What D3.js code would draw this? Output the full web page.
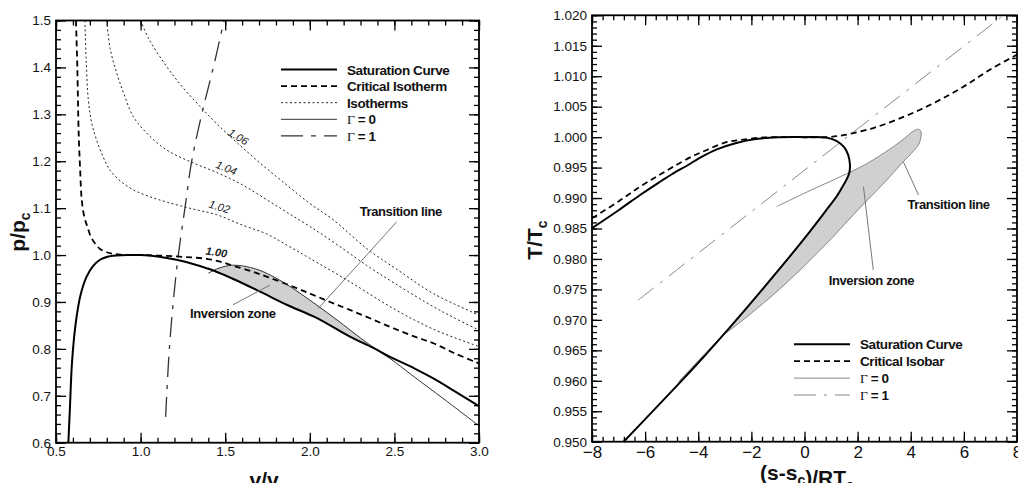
<!DOCTYPE html>
<html>
<head>
<meta charset="utf-8">
<script src="https://cdn.jsdelivr.net/npm/d3@7"></script>
<style>
body{margin:0;background:#fff;}
svg{font-family:"Liberation Sans",Arial,sans-serif;}
</style>
</head>
<body>
<svg id="chart" width="1018" height="483"></svg>
<script>
// ---- left panel : p/pc vs v/vc ----
const satPV = [[0.573,0.6],[0.583,0.68],[0.593,0.762],[0.607,0.825],[0.622,0.869],[0.645,0.915],[0.681,0.954],[0.72,0.977],[0.76,0.990],[0.80,0.996],[0.86,0.999],[0.93,1.0],[1.0,1.0],[1.1,0.997],[1.213,0.990],[1.3,0.982],[1.39,0.972],[1.43,0.967],[1.548,0.949],[1.706,0.922],[1.87,0.893],[2.04,0.866],[2.237,0.826],[2.37,0.803],[2.48,0.782],[2.62,0.758],[2.73,0.737],[2.86,0.709],[3.0,0.678]];
const critIsotherm = [[0.618,1.5],[0.626,1.40],[0.634,1.26],[0.643,1.18],[0.652,1.118],[0.668,1.08],[0.685,1.061],[0.705,1.04],[0.73,1.025],[0.76,1.013],[0.80,1.006],[0.85,1.002],[0.92,1.0],[1.0,1.0],[1.1,0.999],[1.213,0.997],[1.3,0.995],[1.39,0.992],[1.47,0.986],[1.548,0.977],[1.65,0.966],[1.745,0.954],[1.87,0.937],[2.0,0.918],[2.12,0.900],[2.237,0.883],[2.37,0.863],[2.494,0.844],[2.62,0.826],[2.73,0.812],[2.86,0.790],[3.0,0.769]];
const iso102 = [[0.671,1.5],[0.678,1.42],[0.691,1.331],[0.712,1.28],[0.74,1.245],[0.78,1.208],[0.819,1.181],[0.88,1.158],[0.957,1.139],[1.05,1.125],[1.154,1.113],[1.3,1.099],[1.45,1.086],[1.6,1.064],[1.745,1.045],[1.87,1.02],[2.0,0.993],[2.237,0.943],[2.494,0.886],[2.73,0.842],[3.0,0.805]];
const iso104 = [[0.80,1.5],[0.82,1.44],[0.859,1.388],[0.9,1.345],[0.957,1.295],[1.05,1.255],[1.154,1.224],[1.3,1.198],[1.45,1.176],[1.6,1.150],[1.745,1.118],[1.87,1.090],[2.0,1.061],[2.15,1.025],[2.336,0.978],[2.5,0.940],[2.73,0.89],[2.86,0.865],[3.0,0.84]];
const iso106 = [[1.0,1.5],[1.05,1.46],[1.154,1.402],[1.25,1.357],[1.351,1.317],[1.45,1.28],[1.568,1.24],[1.7,1.198],[1.844,1.155],[2.0,1.11],[2.139,1.075],[2.336,1.014],[2.533,0.965],[2.73,0.918],[3.0,0.872]];
const gamma0PV = [[1.40,0.961],[1.43,0.967],[1.47,0.973],[1.53,0.978],[1.60,0.977],[1.70,0.968],[1.80,0.951],[1.90,0.929],[2.00,0.904],[2.10,0.878],[2.20,0.851],[2.30,0.823],[2.40,0.797],[2.48,0.778],[2.60,0.745],[2.80,0.691],[3.0,0.636]];
const gamma1PV = [[1.148,0.655],[1.154,0.7],[1.170,0.8],[1.193,0.9],[1.223,1.0],[1.262,1.1],[1.302,1.2],[1.361,1.3],[1.43,1.4],[1.493,1.5]];
const isoLabels = ["1.00","1.02","1.04","1.06"];
const isoLabelPos = [[1.445,0.998],[1.459,1.095],[1.499,1.178],[1.566,1.245]];
const isoLabelAngle = [8,17,22,32];

// ---- right panel : T/Tc vs (s-sc)/RTc ----
const satTS = [[-8,0.98505],[-7,0.98800],[-6.19,0.9905],[-5.5,0.9925],[-4.94,0.99406],[-4.43,0.9953],[-3.93,0.99663],[-3.3,0.99800],[-2.6,0.99900],[-1.9,0.99965],[-1.0,0.99997],[0,1.0],[0.8,0.99995],[1.2,0.9994],[1.5,0.9983],[1.65,0.9970],[1.71,0.9955],[1.69,0.9942],[1.60,0.9932],[1.45,0.9920],[1.213,0.9903],[0.8,0.9879],[0.2,0.9845],[-0.8,0.9791],[-1.8,0.9739],[-2.8,0.9688],[-3.1,0.96733],[-3.8,0.9639],[-4.8,0.9592],[-5.8,0.9546],[-6.81,0.950]];
const critIsobar = [[-8,0.98667],[-7,0.98945],[-6.19,0.99186],[-5.5,0.9937],[-4.94,0.99514],[-4.2,0.9969],[-3.68,0.99789],[-3.0,0.9991],[-2.43,0.99953],[-1.5,0.99995],[-0.5,1.0],[0.83,1.0],[1.3,1.0002],[1.84,1.00067],[2.59,1.00149],[3.47,1.00286],[4.35,1.0045],[5.23,1.00642],[6.11,1.00861],[6.98,1.01107],[8,1.01354]];
const gamma0TS = [[-1.05,0.9886],[0,0.9908],[1.0,0.9928],[1.69,0.9942],[2.2,0.9953],[2.6,0.9963],[3.1,0.9977],[3.6,0.99925],[3.9,1.0003],[4.1,1.0010],[4.3,1.0013],[4.39,1.0008],[4.32,0.9990],[4.1,0.9977],[3.72,0.99596],[3.0,0.99250],[2.0,0.98800],[1.0,0.98330],[0,0.97890],[-1.0,0.97480],[-2.0,0.97110],[-2.6,0.96900],[-3.1,0.96733],[-3.8,0.9642],[-4.75,0.9598]];
const gamma1TS = [[-6.26,0.97326],[0.6,0.9966],[7.49,1.020]];

const svg = d3.select("#chart");

function frame(xs, ys, xMaj, xMin, yMaj, yMin, xFmt, yFmt, xSize, ySize){
    const [x0,x1] = xs.range(), [y0,y1] = ys.range();
    const g = svg.append("g");
    // bottom
    g.append("g").attr("transform",`translate(0,${y0})`)
        .call(d3.axisBottom(xs).tickValues(xMaj).tickSize(-10).tickPadding(4).tickFormat(xFmt))
        .call(a=>a.selectAll("text").style("font-size",xSize+"px").attr("fill","#111"));
    g.append("g").attr("transform",`translate(0,${y0})`)
        .call(d3.axisBottom(xs).tickValues(xMin).tickSize(-5).tickFormat(""));
    // top
    g.append("g").attr("transform",`translate(0,${y1})`)
        .call(d3.axisTop(xs).tickValues(xMaj).tickSize(-10).tickFormat(""));
    g.append("g").attr("transform",`translate(0,${y1})`)
        .call(d3.axisTop(xs).tickValues(xMin).tickSize(-5).tickFormat(""));
    // left
    g.append("g").attr("transform",`translate(${x0},0)`)
        .call(d3.axisLeft(ys).tickValues(yMaj).tickSize(-10).tickPadding(5).tickFormat(yFmt))
        .call(a=>a.selectAll("text").style("font-size",ySize+"px").attr("fill","#111"));
    g.append("g").attr("transform",`translate(${x0},0)`)
        .call(d3.axisLeft(ys).tickValues(yMin).tickSize(-5).tickFormat(""));
    // right
    g.append("g").attr("transform",`translate(${x1},0)`)
        .call(d3.axisRight(ys).tickValues(yMaj).tickSize(-10).tickFormat(""));
    g.append("g").attr("transform",`translate(${x1},0)`)
        .call(d3.axisRight(ys).tickValues(yMin).tickSize(-5).tickFormat(""));
    g.selectAll(".domain").remove();
    g.selectAll(".tick line").attr("stroke","#000").attr("stroke-width",1.3);
    g.selectAll(".tick text").style("font-family","'Liberation Sans',Arial,sans-serif");
    g.append("rect").attr("x",x0).attr("y",y1).attr("width",x1-x0).attr("height",y0-y1)
        .attr("fill","none").attr("stroke","#000").attr("stroke-width",1.8);
}

function steps(a,b,st){ return d3.range(Math.round((b-a)/st)+1).map(i=>+(a+i*st).toFixed(4)); }

// ===== left =====
const xL = d3.scaleLinear().domain([0.5,3.0]).range([56,479]);
const yL = d3.scaleLinear().domain([0.6,1.5]).range([442.7,20.5]);
const lineL = d3.line().x(d=>xL(d[0])).y(d=>yL(d[1])).curve(d3.curveCatmullRom);

const gL = svg.append("g");
const zoneL = gamma0PV.slice(1,14).concat(satPV.slice(17,25).reverse());
gL.append("path").attr("d",lineL(zoneL)+"Z").attr("fill","#d0d0d0").attr("stroke","none");

[iso102,iso104,iso106].forEach(s=>{
    gL.append("path").attr("d",lineL(s)).attr("fill","none").attr("stroke","#222")
      .attr("stroke-width",1).attr("stroke-dasharray","2,2.5");
});
gL.append("path").attr("d",lineL(gamma1PV)).attr("fill","none").attr("stroke","#333")
  .attr("stroke-width",1.3).attr("stroke-dasharray","20,8,4,8");
gL.append("path").attr("d",lineL(critIsotherm)).attr("fill","none").attr("stroke","#000")
  .attr("stroke-width",1.8).attr("stroke-dasharray","6,4");
gL.append("path").attr("d",lineL(gamma0PV)).attr("fill","none").attr("stroke","#333").attr("stroke-width",1);
gL.append("path").attr("d",lineL(satPV)).attr("fill","none").attr("stroke","#000").attr("stroke-width",2);

isoLabels.forEach((t,i)=>{
    gL.append("text").attr("transform",`translate(${xL(isoLabelPos[i][0])},${yL(isoLabelPos[i][1])}) rotate(${isoLabelAngle[i]})`)
      .attr("text-anchor","middle").style("font-size","11px").style("font-style","italic")
      .style("font-weight", i===0 ? "bold" : "normal").attr("fill","#222").text(t);
});

// annotations left
const annL = [["Transition line",[2.514,1.071],[2.05,0.886],[2.538,1.083]],["Inversion zone",[1.546,0.894],[1.765,0.936],[1.545,0.866]]];
annL.forEach(a=>{
    gL.append("line").attr("x1",xL(a[1][0])).attr("y1",yL(a[1][1])).attr("x2",xL(a[2][0])).attr("y2",yL(a[2][1]))
      .attr("stroke","#777").attr("stroke-width",1);
    gL.append("text").attr("x",xL(a[3][0])).attr("y",yL(a[3][1])).attr("text-anchor","middle")
      .style("font-size","13px").style("font-weight","bold").style("letter-spacing","-0.4px")
      .attr("fill","#111").text(a[0]);
});

frame(xL, yL, steps(0.5,3.0,0.5), steps(0.5,3.0,0.1), steps(0.6,1.5,0.1), steps(0.6,1.5,0.02),
      d3.format(".1f"), d3.format(".1f"), 13.5, 13.5);

// ===== right =====
const xR = d3.scaleLinear().domain([-8,8]).range([592,1017]);
const yR = d3.scaleLinear().domain([0.95,1.02]).range([441.7,15.3]);
const lineR = d3.line().x(d=>xR(d[0])).y(d=>yR(d[1])).curve(d3.curveCatmullRom);

const gR = svg.append("g");
const zoneR = gamma0TS.slice(3,23).concat(satTS.slice(17,27).reverse());
gR.append("path").attr("d",lineR(zoneR)+"Z").attr("fill","#d0d0d0").attr("stroke","none");
gR.append("path").attr("d",lineR(gamma1TS)).attr("fill","none").attr("stroke","#888")
  .attr("stroke-width",1).attr("stroke-dasharray","20,8,3,8");
gR.append("path").attr("d",lineR(gamma0TS)).attr("fill","none").attr("stroke","#888").attr("stroke-width",1);
gR.append("path").attr("d",lineR(critIsobar)).attr("fill","none").attr("stroke","#000")
  .attr("stroke-width",1.8).attr("stroke-dasharray","6,4");
gR.append("path").attr("d",lineR(satTS)).attr("fill","none").attr("stroke","#000").attr("stroke-width",2);

const annR = [["Transition line",[3.72,0.99596],[4.29,0.9905],[5.42,0.9882]],["Inversion zone",[2.59,0.97818],[2.22,0.99186],[2.52,0.9757]]];
annR.forEach(a=>{
    gR.append("line").attr("x1",xR(a[1][0])).attr("y1",yR(a[1][1])).attr("x2",xR(a[2][0])).attr("y2",yR(a[2][1]))
      .attr("stroke","#777").attr("stroke-width",1);
    gR.append("text").attr("x",xR(a[3][0])).attr("y",yR(a[3][1])).attr("text-anchor","middle")
      .style("font-size","13px").style("font-weight","bold").style("letter-spacing","-0.4px")
      .attr("fill","#111").text(a[0]);
});

frame(xR, yR, steps(-8,8,2), steps(-8,8,0.4), steps(0.95,1.02,0.005), steps(0.95,1.02,0.001),
      d3.format("d"), d3.format(".3f"), 17, 13.5);

// ===== legends =====
function legend(x0, y0, dy, items){
    items.forEach((it,i)=>{
        const y = y0 + i*dy;
        svg.append("line").attr("x1",x0).attr("x2",x0+56).attr("y1",y).attr("y2",y)
           .attr("stroke",it.color).attr("stroke-width",it.w).attr("stroke-dasharray",it.dash);
        const t = svg.append("text").attr("x",x0+66).attr("y",y+5)
           .style("font-size","13.5px").style("font-weight","bold").style("letter-spacing","-0.4px").attr("fill","#111");
        if(it.gamma){
            t.append("tspan").style("font-family","'Liberation Serif',serif").style("font-weight","normal").text("\u0393");
            t.append("tspan").text(" = " + it.gamma);
        } else t.text(it.label);
    });
}
legend(281, 69.5, 16.6, [
    {label:"Saturation Curve", color:"#000", w:2, dash:null},
    {label:"Critical Isotherm", color:"#000", w:1.8, dash:"6,4"},
    {label:"Isotherms", color:"#222", w:1, dash:"2,2.5"},
    {gamma:"0", color:"#333", w:1, dash:null},
    {gamma:"1", color:"#333", w:1.3, dash:"22,8,5,8"}
]);
legend(794, 344.3, 16.9, [
    {label:"Saturation Curve", color:"#000", w:2, dash:null},
    {label:"Critical Isobar", color:"#000", w:1.8, dash:"6,4"},
    {gamma:"0", color:"#888", w:1, dash:null},
    {gamma:"1", color:"#888", w:1, dash:"22,8,3,8"}
]);

// ===== axis titles =====
function title(x, y, rot, parts){
    const t = svg.append("text").attr("transform",`translate(${x},${y}) rotate(${rot})`)
       .attr("text-anchor","middle").style("font-size","21px").style("font-weight","bold").attr("fill","#111");
    parts.forEach(p=>{
        if(p.sub){
            t.append("tspan").attr("dy",5).style("font-size","14px").text(p.sub);
            t.append("tspan").attr("dy",-5).text("");
        } else t.append("tspan").text(p.txt);
    });
}
title(25, 232, -90, [{txt:"p/p"},{sub:"c"}]);
title(268, 487, 0, [{txt:"v/v"},{sub:"c"}]);
title(542, 240, -90, [{txt:"T/T"},{sub:"c"}]);
title(807, 480, 0, [{txt:"(s-s"},{sub:"c"},{txt:")/RT"},{sub:"c"}]);
</script>
</body>
</html>
